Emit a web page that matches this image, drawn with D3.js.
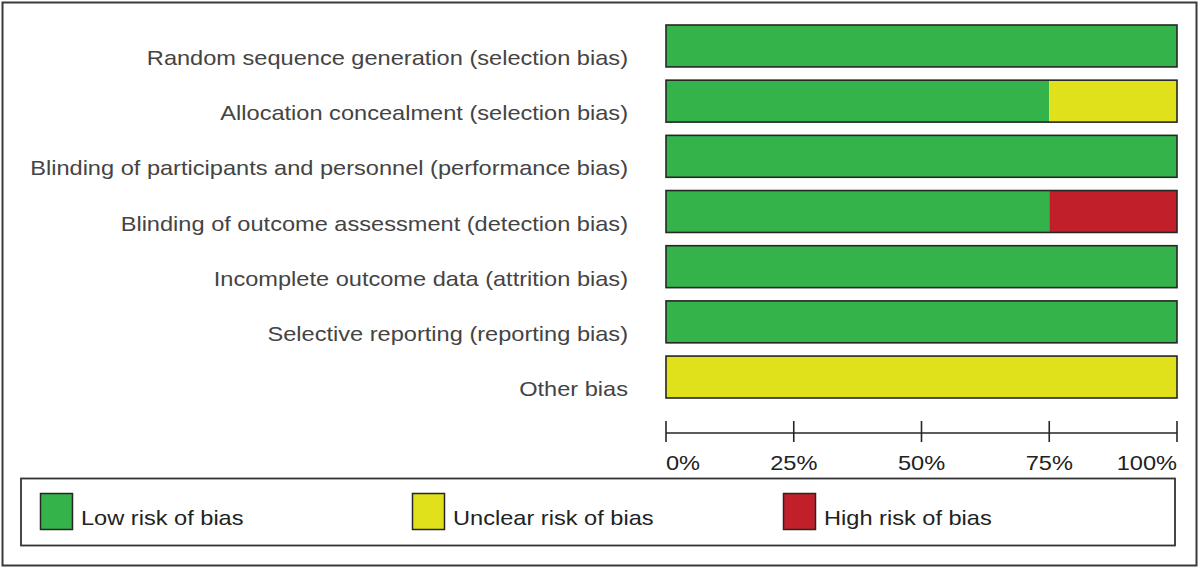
<!DOCTYPE html>
<html><head><meta charset="utf-8">
<script src="https://cdn.jsdelivr.net/npm/d3@7"></script>
<style>body{margin:0;background:#fff}svg{display:block}</style>
</head><body><svg id="c" width="1200" height="569"></svg>
<script>
const categories = [
  "Random sequence generation (selection bias)",
  "Allocation concealment (selection bias)",
  "Blinding of participants and personnel (performance bias)",
  "Blinding of outcome assessment (detection bias)",
  "Incomplete outcome data (attrition bias)",
  "Selective reporting (reporting bias)",
  "Other bias"
];
const lowRisk = [100, 75, 100, 75, 100, 100, 0];
const unclearRisk = [0, 25, 0, 0, 0, 0, 100];
const highRisk = [0, 0, 0, 25, 0, 0, 0];
const tickValues = [0, 25, 50, 75, 100];
const tickLabels = ["0%", "25%", "50%", "75%", "100%"];
const seriesNames = ["Low risk of bias", "Unclear risk of bias", "High risk of bias"];
const seriesColors = ["#33b34a", "#e1e11b", "#c1202a"];

const svg = d3.select("#c");
const font = "'Liberation Sans', Arial, sans-serif";
const SX = 1.18; // horizontal stretch of the text in the reference

function stretchedText(sel, xf, yf) {
  return sel.attr("transform", (d, i) => `translate(${xf(d, i)},${yf(d, i)}) scale(${SX},1)`)
    .attr("font-family", font).attr("font-size", 20);
}

// outer border
svg.append("rect").attr("x", 2.5).attr("y", 2.5).attr("width", 1194).attr("height", 563)
  .attr("fill", "none").attr("stroke", "#3a3a3a").attr("stroke-width", 2);

const x = d3.scaleLinear().domain([0, 100]).range([666, 1177]);
const y = d3.scaleBand().domain(categories).range([25, 398]).paddingInner(0.24).paddingOuter(0);

const rows = categories.map((c, i) => ({cat: c, vals: [lowRisk[i], unclearRisk[i], highRisk[i]]}));
const stack = d3.stack().keys([0, 1, 2]).value((d, k) => d.vals[k]);
const stacked = stack(rows);

const g = svg.append("g");
stacked.forEach((layer, k) => {
  g.selectAll(null).data(layer).join("rect")
    .attr("x", d => x(d[0]))
    .attr("y", d => y(d.data.cat))
    .attr("width", d => x(d[1]) - x(d[0]))
    .attr("height", y.bandwidth())
    .attr("fill", seriesColors[k]);
});
g.selectAll(null).data(rows).join("rect")
  .attr("x", x(0)).attr("y", d => y(d.cat))
  .attr("width", d => x(d3.sum(d.vals)) - x(0)).attr("height", y.bandwidth())
  .attr("fill", "none").attr("stroke", "#262626").attr("stroke-width", 1.6);

// category labels
stretchedText(svg.selectAll(null).data(categories).join("text"),
  () => 628, d => y(d) + y.bandwidth() / 2 + 19)
  .attr("text-anchor", "end").attr("fill", "#444").text(d => d);

// axis
const axisY = 433;
svg.append("line").attr("x1", x(0)).attr("x2", x(100)).attr("y1", axisY).attr("y2", axisY)
  .attr("stroke", "#262626").attr("stroke-width", 1.6);
svg.selectAll(null).data(tickValues).join("line")
  .attr("x1", d => x(d)).attr("x2", d => x(d)).attr("y1", axisY - 12).attr("y2", axisY + 9)
  .attr("stroke", "#262626").attr("stroke-width", 1.6);
stretchedText(svg.selectAll(null).data(tickValues).join("text"), d => x(d), () => 470)
  .attr("text-anchor", (d, i) => i === 0 ? "start" : i === tickValues.length - 1 ? "end" : "middle")
  .attr("fill", "#222")
  .text((d, i) => tickLabels[i]);

// legend
svg.append("rect").attr("x", 21).attr("y", 478.5).attr("width", 1154).attr("height", 67)
  .attr("fill", "none").attr("stroke", "#333").attr("stroke-width", 1.8);
const legX = [40, 412, 783];
const lg = svg.selectAll(null).data(seriesNames).join("g")
  .attr("transform", (d, i) => `translate(${legX[i]},0)`);
lg.append("rect").attr("x", 0.5).attr("y", 493.5).attr("width", 32).attr("height", 36)
  .attr("fill", (d, i) => seriesColors[i]).attr("stroke", "#262626").attr("stroke-width", 1.5);
stretchedText(lg.append("text"), () => 41, () => 525).attr("fill", "#222").text(d => d);
</script></body></html>
